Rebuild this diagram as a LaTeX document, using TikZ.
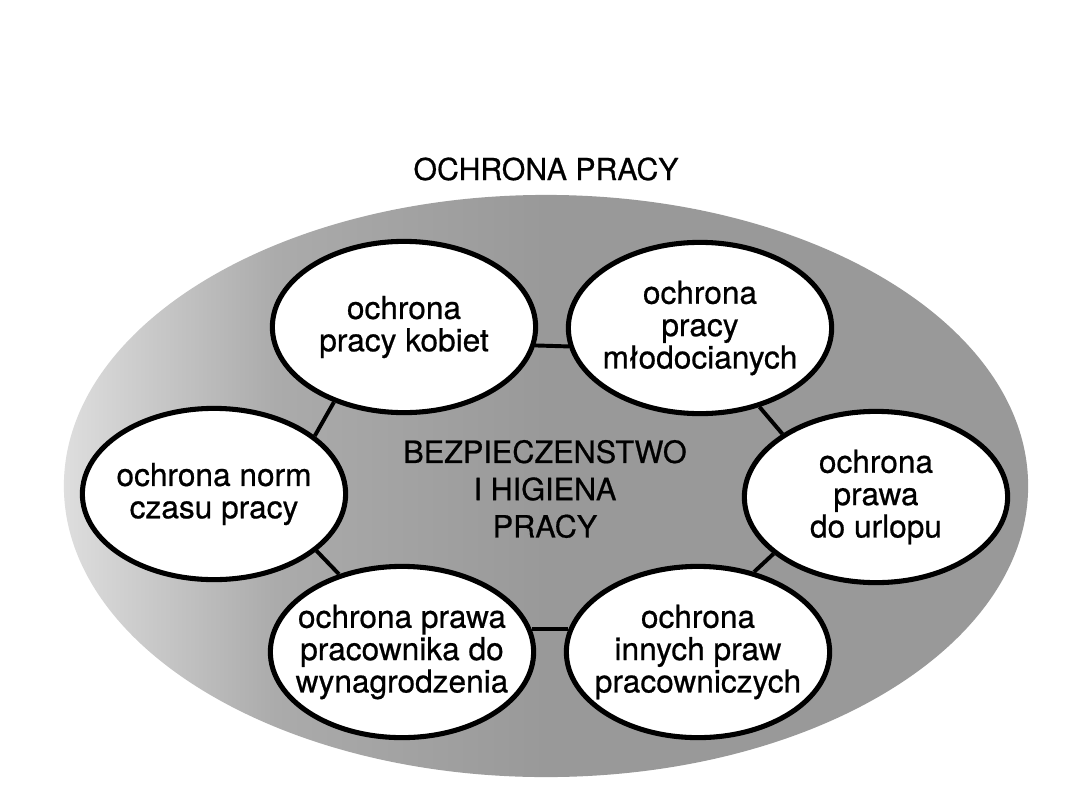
\documentclass[tikz,border=0pt]{standalone}
\usepackage{fontspec}
\setmainfont{TeX Gyre Heros}[FakeBold=0.6]
\usetikzlibrary{shapes.geometric}

% light on the left, even grey from the middle on
\pgfdeclarehorizontalshading{fieldshade}{100bp}{%
  color(0bp)=(black!13); color(25bp)=(black!13); color(36bp)=(black!33);
  color(50bp)=(black!40); color(100bp)=(black!40)}

\begin{document}
\begin{tikzpicture}[
  x=0.025cm, y=-0.025cm,
  areabox/.style={ellipse, draw=black, line width=3.6pt, fill=white,
    minimum width=6.58cm, minimum height=4.28cm, inner sep=-1.5cm,
    align=center, font=\fontsize{22.5}{23}\selectfont},
  ringlink/.style={draw=black, line width=2.8pt},
  headtext/.style={font=\fontsize{21.5}{26}\selectfont},
  coretext/.style={text=black, align=center, font=\fontsize{21.8}{26.5}\selectfont}
  ]

% page
\fill[white] (0,0) rectangle (1080,810);
\useasboundingbox (0,0) rectangle (1080,810);

% outer field
\shade[shading=fieldshade]
  (546,486) ellipse [x radius=12.05cm, y radius=7.275cm];

\node[headtext] (head) at (546,169) {OCHRONA PRACY};
\node[coretext] (core) at (545,489) {BEZPIECZENSTWO\\I HIGIENA\\PRACY};

% six areas
\node[areabox] (kobiet) at (404,327) {ochrona\\pracy kobiet};
\node[areabox] (mlodoc) at (700,328) {ochrona\\pracy\\młodocianych};
\node[areabox] (urlop)  at (876,497) {ochrona\\prawa\\do urlopu};
\node[areabox] (inne)   at (698,652) {ochrona\\innych praw\\pracowniczych};
\node[areabox] (placa)  at (402,652) {ochrona prawa\\pracownika do\\wynagrodzenia};
\node[areabox] (czas)   at (214,494) {ochrona norm\\czasu pracy};

% ring links
\draw[ringlink] (kobiet.-8) -- (mlodoc.188);
\draw[ringlink] (mlodoc.-53) -- (urlop.146);
\draw[ringlink] (urlop.209) -- (inne.55);
\draw[ringlink] (inne.170) -- (placa.10);
\draw[ringlink] (placa.129) -- (czas.-29);
\draw[ringlink] (czas.30) -- (kobiet.227);
\end{tikzpicture}
\end{document}
